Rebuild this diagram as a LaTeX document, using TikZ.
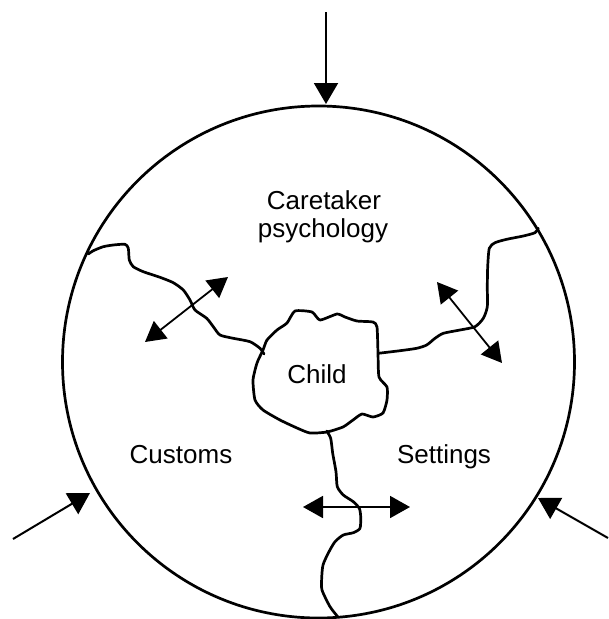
\documentclass[tikz,border=0pt]{standalone}
\usepackage{fontspec}
\setmainfont{Liberation Sans}
\usetikzlibrary{arrows.meta}
\tikzset{
  boundary/.style={line width=2.7pt, line join=round, line cap=round},
  label/.style={anchor=base, inner sep=0pt, font=\fontsize{26}{30}\selectfont},
  flow/.style={line width=2pt, -{Triangle[length=21pt,width=24pt]}},
  flowboth/.style={line width=1.8pt, {Triangle[length=20pt,width=22pt]}-{Triangle[length=20pt,width=22pt]}}
}
\begin{document}
\begin{tikzpicture}[x=1pt,y=-1pt]
\useasboundingbox (0,0) rectangle (609,619);
% outer circle
\node[draw, circle, minimum size=512pt, inner sep=0pt, line width=2.7pt] (world) at (318.5,362) {};
% child blob
\draw[boundary] plot[smooth cycle, tension=0.35] coordinates {
 (295,311) (312,312) (320,320) (337,314) (345,317) (357,321) (373,322) (377,327)
 (378,353) (379,377) (387,387) (387,400) (383,413) (373,417) (362,414) (353,420)
 (343,427) (327,432) (310,433) (297,428) (280,420) (263,410) (255,400) (253,380)
 (257,363) (263,350) (267,340) (277,330) (287,323)};
% boundaries between regions
\draw[boundary] plot[smooth, tension=0.4] coordinates {
 (88.3,254) (93.3,250.7) (103.3,246.7) (113.3,245) (125,244.3) (128.3,248.3)
 (129.3,260) (133.3,266.7) (143.3,271.7) (160,277.3) (173.3,282.7) (183.3,290)
 (190,300) (195,310) (206.7,318.3) (213.3,326.7) (220,335) (233.3,338.3)
 (250,341.7) (260,348.3) (264,354)};
\draw[boundary] plot[smooth, tension=0.4] coordinates {
 (538.3,228.3) (535,232.7) (523.3,236) (506.7,239.3) (495,242.7) (489.3,248.3)
 (487.7,266.7) (487.3,286.7) (487.3,306.7) (483.3,318.3) (475,326.7) (460,330)
 (443.3,333.3) (435,338.3) (426.7,345) (416.7,348.3) (400,350.7) (378.3,353.3)};
\draw[boundary] plot[smooth, tension=0.4] coordinates {
 (326.7,431) (330.7,438.3) (332.7,453.3) (336,471.7) (337.3,486.7) (343.3,495)
 (353.3,501.7) (359.3,508.3) (360.7,516.7) (360,528.3) (353.3,532.7) (343.3,535)
 (335,541.7) (328.3,553) (323,565) (321.7,578) (322,590) (330,606.7) (338,617)};
% labels
\node[label] (care) at (324,209) {Caretaker};
\node[label] (psy) at (323,237) {psychology};
\node[label] (child) at (317,383) {Child};
\node[label] (cust) at (181,463) {Customs};
\node[label] (sett) at (444,463) {Settings};
% arrow end points
\coordinate (topS) at (326,12);
\coordinate (topE) at (326,104);
\coordinate (leftS) at (13,539);
\coordinate (leftE) at (90,493);
\coordinate (rightS) at (608,538);
\coordinate (rightE) at (538,498);
\coordinate (a1) at (228,277);
\coordinate (a2) at (145,342);
\coordinate (b1) at (437,282);
\coordinate (b2) at (502,363);
\coordinate (c1) at (303,507);
\coordinate (c2) at (410,507);
% arrows
\draw[flow] (topS) -- (topE);
\draw[flow] (leftS) -- (leftE);
\draw[flow] (rightS) -- (rightE);
\draw[flowboth] (a1) -- (a2);
\draw[flowboth] (b1) -- (b2);
\draw[flowboth] (c1) -- (c2);
\end{tikzpicture}
\end{document}
